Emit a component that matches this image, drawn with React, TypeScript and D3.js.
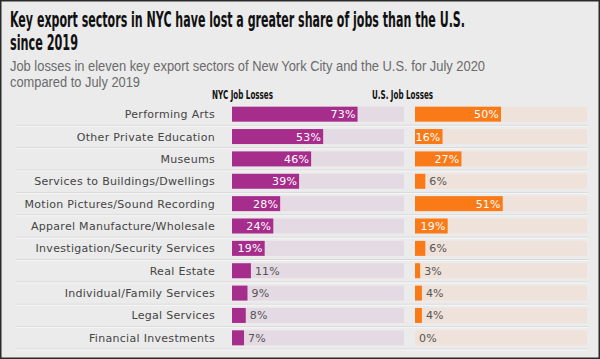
import React from "react";
import * as d3 from "d3";

const categories = [
  "Performing Arts",
  "Other Private Education",
  "Museums",
  "Services to Buildings/Dwellings",
  "Motion Pictures/Sound Recording",
  "Apparel Manufacture/Wholesale",
  "Investigation/Security Services",
  "Real Estate",
  "Individual/Family Services",
  "Legal Services",
  "Financial Investments",
];
const nycLosses = [73, 53, 46, 39, 28, 24, 19, 11, 9, 8, 7];
const usLosses = [50, 16, 27, 6, 51, 19, 6, 3, 4, 4, 0];

const W = 600;
const H = 359;
const labelFont = "'DejaVu Sans', sans-serif";
const titleFont = "'DejaVu Sans Condensed', 'DejaVu Sans', sans-serif";
const subFont = "'Liberation Sans', Arial, sans-serif";

export default function App() {
  const y = d3
    .scaleBand<string>()
    .domain(categories)
    .range([103, 349])
    .paddingInner(0.33)
    .paddingOuter(0.165);
  const xN = d3.scaleLinear().domain([0, 100]).range([232, 404]);
  const xU = d3.scaleLinear().domain([0, 100]).range([415, 587]);
  const step = y.step();
  const bw = y.bandwidth();

  const panel = (
    x: d3.ScaleLinear<number, number>,
    vals: number[],
    color: string,
    track: string,
    key: string
  ) =>
    categories.map((c, i) => {
      const v = vals[i];
      const y0 = y(c)!;
      const inside = v >= 15;
      const xe = x(v);
      return (
        <g key={key + c}>
          <rect x={x(0)} y={y0} width={x(100) - x(0)} height={bw} fill={track} />
          <rect x={x(0)} y={y0} width={xe - x(0)} height={bw} fill={color} />
          <text
            x={inside ? xe - 2 : xe + 4}
            y={y0 + bw / 2}
            dy="0.36em"
            textAnchor={inside ? "end" : "start"}
            fill={inside ? "#ffffff" : "#555555"}
            fontFamily={labelFont}
            fontSize={11}
            letterSpacing={0.2}
          >
            {v}%
          </text>
        </g>
      );
    });

  return (
    <svg
      width={W}
      height={H}
      style={{ position: "absolute", left: 0, top: 0, display: "block" }}
    >
      <rect x={0} y={0} width={W} height={H} fill="#ebebeb" />
      <rect x={0.75} y={0.75} width={W - 1.5} height={H - 1.5} fill="none" stroke="#2a2a2a" strokeWidth={1.5} />
      <text x={10} y={27} fontFamily={titleFont} fontWeight="bold" fontSize={21} fill="#111"
        textLength={455} lengthAdjust="spacingAndGlyphs">
        Key export sectors in NYC have lost a greater share of jobs than the U.S.
      </text>
      <text x={10} y={50} fontFamily={titleFont} fontWeight="bold" fontSize={21} fill="#111"
        textLength={68} lengthAdjust="spacingAndGlyphs">
        since 2019
      </text>
      <text x={10} y={71} fontFamily={subFont} fontSize={14} fill="#6a6a6a"
        textLength={475} lengthAdjust="spacingAndGlyphs">
        Job losses in eleven key export sectors of New York City and the U.S. for July 2020
      </text>
      <text x={10} y={87} fontFamily={subFont} fontSize={14} fill="#6a6a6a"
        textLength={130} lengthAdjust="spacingAndGlyphs">
        compared to July 2019
      </text>
      <text x={212} y={99} fontFamily={titleFont} fontWeight="bold" fontSize={13} fill="#111"
        textLength={61} lengthAdjust="spacingAndGlyphs">
        NYC Job Losses
      </text>
      <text x={372} y={99} fontFamily={titleFont} fontWeight="bold" fontSize={13} fill="#111"
        textLength={61} lengthAdjust="spacingAndGlyphs">
        U.S. Job Losses
      </text>
      {categories.map((c) => {
        const yl = y(c)! + bw + (step - bw) / 2;
        return (
          <g key={"sep" + c}>
            <line x1={16} x2={588} y1={yl} y2={yl} stroke="#d8d8d8" strokeWidth={1} />
            <line x1={16} x2={588} y1={yl + 1} y2={yl + 1} stroke="#f6f6f6" strokeWidth={1} />
          </g>
        );
      })}
      {categories.map((c) => (
        <text
          key={"l" + c}
          x={215}
          y={y(c)! + bw / 2}
          dy="0.36em"
          textAnchor="end"
          fontFamily={labelFont}
          fontSize={11}
          letterSpacing={0.3}
          fill="#444"
        >
          {c}
        </text>
      ))}
      {panel(xN, nycLosses, "#a62d8c", "#e4dae3", "n")}
      {panel(xU, usLosses, "#f97a17", "#efe2da", "u")}
    </svg>
  );
}
